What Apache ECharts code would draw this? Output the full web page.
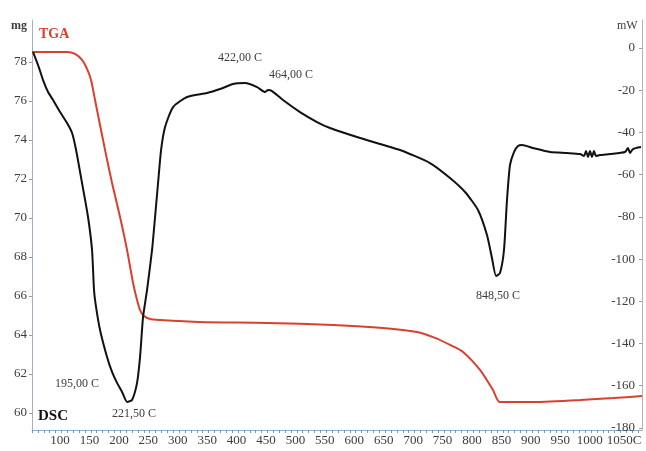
<!DOCTYPE html>
<html><head><meta charset="utf-8">
<script src="https://cdn.jsdelivr.net/npm/echarts@6/dist/echarts.min.js"></script>
<style>html,body{margin:0;padding:0;background:#fff}#c{width:646px;height:451px}</style>
</head><body><div id="c"></div>
<script>
// Temperature (°C) for TGA curve and mass (mg)
const tgaT = [60.1,119.6,133.2,145.0,153.5,160.3,167.1,184.1,196.0,209.6,221.5,231.7,238.5,243.6,250.4,260.6,277.6,345.5,459.4,571.5,656.4,714.2,744.8,770.3,792.4,821.2,843.3,855.2,906.2,991.2,1047.2,1096.5];
const tgaMg = [78.51,78.51,78.41,78.10,77.64,77.08,76.05,73.49,71.79,70.05,68.36,66.67,65.79,65.28,64.97,64.82,64.77,64.67,64.62,64.51,64.36,64.15,63.85,63.49,63.13,62.21,61.18,60.56,60.56,60.67,60.77,60.87];
// DSC curve: temperature (°C) and heat flow (mW)
const dscT = [61.8,70.3,78.8,87.3,95.8,107.7,119.6,128.1,134.9,145.0,155.2,162.0,165.4,168.8,175.6,187.5,196.0,204.5,213.0,221.5,230.0,238.5,243.6,248.7,255.5,264.0,269.1,274.2,279.3,286.1,299.7,323.4,357.4,379.5,401.6,422.0,442.4,455.9,461.1,467.9,486.5,515.4,544.3,566.4,617.4,685.3,736.3,770.3,795.8,817.8,833.1,841.6,848.5,855.2,862.0,867.1,872.2,879.0,885.8,892.6,911.3,940.2,969.0,991.2,997.9,1001.3,1004.7,1008.1,1011.5,1014.9,1018.3,1025.1,1042.1,1067.6,1072.7,1076.1,1081.2,1094.8];
const dscMw = [-1.89,-8.05,-15.16,-20.84,-24.63,-30.32,-35.53,-40.27,-48.32,-63.95,-80.06,-95.69,-114.64,-122.69,-133.59,-146.38,-153.48,-158.69,-162.95,-167.69,-166.75,-158.69,-146.38,-127.43,-114.64,-95.69,-80.06,-63.95,-48.32,-37.42,-27.95,-23.21,-21.32,-19.42,-17.05,-16.58,-18.47,-20.84,-19.90,-20.37,-24.63,-30.32,-35.05,-37.90,-42.63,-48.32,-54.48,-61.58,-68.21,-76.74,-88.58,-99.48,-108.0,-106.6,-95.69,-72.0,-55.42,-49.27,-46.42,-45.95,-47.37,-49.27,-49.74,-50.21,-51.16,-48.79,-51.63,-48.79,-51.63,-48.79,-51.16,-50.69,-50.21,-49.27,-47.37,-49.74,-47.85,-46.90];
// Ticks
const xLabels = [100,150,200,250,300,350,400,450,500,550,600,650,700,750,800,850,900,950,1000];
const xLastLabel = [1050];
const xMinorTicks = [60,70,80,90,100,110,120,130,140,150,160,170,180,190,200,210,220,230,240,250,260,270,280,290,300,310,320,330,340,350,360,370,380,390,400,410,420,430,440,450,460,470,480,490,500,510,520,530,540,550,560,570,580,590,600,610,620,630,640,650,660,670,680,690,700,710,720,730,740,750,760,770,780,790,800,810,820,830,840,850,860,870,880,890,900,910,920,930,940,950,960,970,980,990,1000,1010,1020,1030,1040,1050,1060,1070,1080,1090];
const mgTicks = [60,62,64,66,68,70,72,74,76,78];
const mwTicks = [0,-20,-40,-60,-80,-100,-120,-140,-160,-180];
// Peak annotations: [T, mW, text]
const peaks = [
  [422.0,-16.58,'422,00 C'],
  [461.1,-19.90,'464,00 C'],
  [848.5,-108.0,'848,50 C'],
  [204.5,-158.69,'195,00 C'],
  [221.5,-167.69,'221,50 C']
];
const peakOffsets = [[-5,-25],[23,-15],[2,20],[-40,1],[7,12]];

const font = 'Liberation Serif, Times New Roman, serif';
const txtColor = '#3c3c3c';
const chart = echarts.init(document.getElementById('c'));
const zip = (a,b)=>a.map((v,i)=>[v,b[i]]);
const lbl = {color:txtColor,fontFamily:font,fontSize:13,margin:4,padding:[0,0,0,9],hideOverlap:false};
chart.setOption({
  animation:false,
  backgroundColor:'#fff',
  grid:{left:32,right:4,top:20,bottom:21},
  xAxis:[
   {type:'value',min:60,max:1096.5,
    axisLine:{onZero:false,lineStyle:{color:'#8fb0cc',width:1}},
    axisTick:{customValues:xMinorTicks,length:3,inside:false,lineStyle:{color:'#6f9cc4'}},
    axisLabel:Object.assign({customValues:xLabels,formatter:v=>String(v)},lbl),
    splitLine:{show:false}},
   {type:'value',min:60,max:1096.5,position:'bottom',offset:0,
    axisLine:{show:false,onZero:false},axisTick:{show:false},
    axisLabel:Object.assign({customValues:xLastLabel,formatter:v=>String(v)+'C'},lbl,{padding:[0,0,0,19]}),
    splitLine:{show:false}}
  ],
  yAxis:[
    {type:'value',min:59.13,max:80.15,position:'left',
     axisLine:{show:true,onZero:false,lineStyle:{color:'#a8b0bc'}},
     axisTick:{show:true,customValues:mgTicks,length:3,lineStyle:{color:'#7fa0c0'}},
     axisLabel:{customValues:mgTicks,color:txtColor,fontFamily:font,fontSize:13,margin:5},
     splitLine:{show:false}},
    {type:'value',min:-181,max:13.3,position:'right',
     axisLine:{show:true,onZero:false,lineStyle:{color:'#b4b0b8'}},
     axisTick:{show:true,inside:true,customValues:mwTicks,length:3,lineStyle:{color:'#a09aa6'}},
     axisLabel:{inside:true,customValues:mwTicks,color:txtColor,fontFamily:font,fontSize:13,margin:7},
     splitLine:{show:false}}
  ],
  graphic:[
    {type:'text',left:11,top:20,style:{text:'mg',font:'bold 12px '+font,fill:txtColor}},
    {type:'text',left:617,top:20,style:{text:'mW',font:'12px '+font,fill:txtColor}},
    {type:'text',left:39,top:27,style:{text:'TGA',font:'bold 14px '+font,fill:'#d8412f'}},
    {type:'text',left:38,top:409,style:{text:'DSC',font:'bold 15px '+font,fill:'#111'}}
  ],
  series:[
    {type:'line',name:'TGA',xAxisIndex:0,yAxisIndex:0,data:zip(tgaT,tgaMg),showSymbol:false,smooth:0.25,
     lineStyle:{color:'#d8412f',width:2}},
    {type:'line',name:'DSC',xAxisIndex:0,yAxisIndex:1,data:zip(dscT,dscMw),showSymbol:false,smooth:0.2,
     lineStyle:{color:'#111',width:2},
     markPoint:{symbol:'circle',symbolSize:0,
       data:peaks.map((p,i)=>({coord:[p[0],p[1]],value:p[2],
         label:{show:true,formatter:p[2],offset:peakOffsets[i],color:txtColor,fontFamily:font,fontSize:12,position:'inside'}}))}}
  ]
});
</script></body></html>
